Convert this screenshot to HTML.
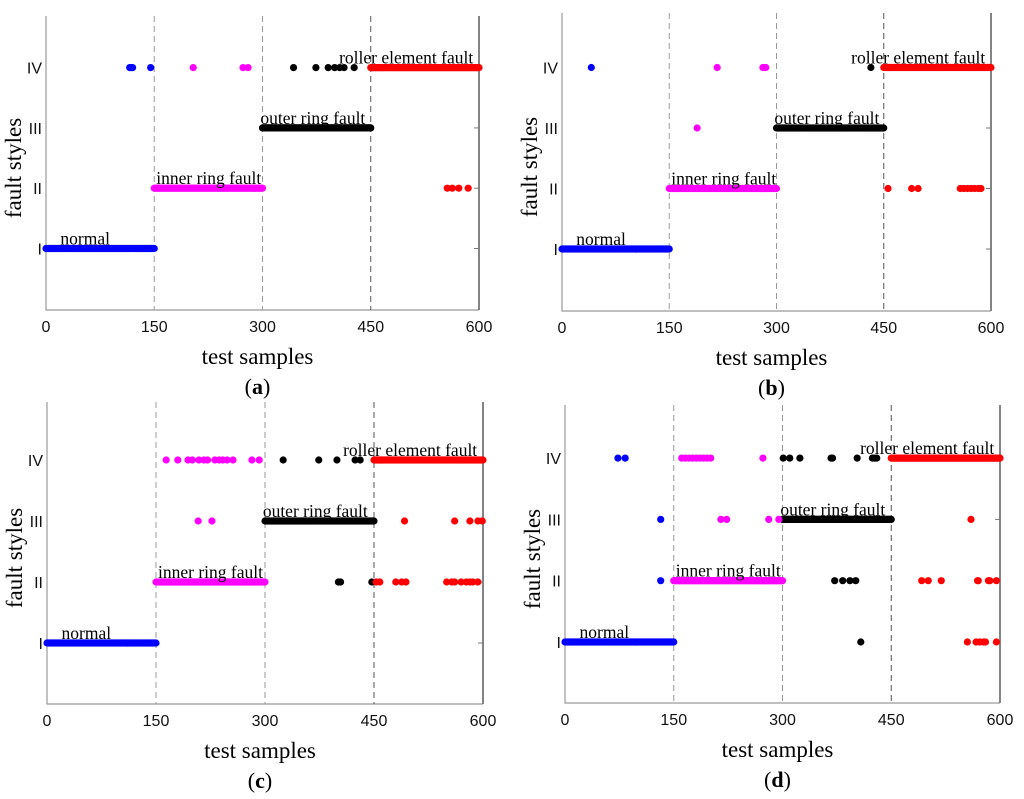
<!DOCTYPE html>
<html><head><meta charset="utf-8">
<style>
html,body{margin:0;padding:0;background:#fff;}
svg{display:block;}
</style></head>
<body>
<svg id="fig" width="1024" height="799" viewBox="0 0 1024 799" xmlns="http://www.w3.org/2000/svg"></svg>
<script>
// ---- data ----
const xTicks = [0, 150, 300, 450, 600];
const yTickLabels = ["I", "II", "III", "IV"];
const classNames = ["normal", "inner ring fault", "outer ring fault", "roller element fault"];
const classColors = ["#0000ff", "#ff00ff", "#000000", "#ff0000"];
const classRanges = [[0,150],[150,300],[300,450],[450,600]];
const panelLetters = ["a","b","c","d"];
// misclassified samples: [sample, trueClass(0-3), predictedLevel(1-4)]
const outA = [[116,0,4],[118,0,4],[120,0,4],[145,0,4],[204,1,4],[273,1,4],[280,1,4],
  [343,2,4],[374,2,4],[391,2,4],[400,2,4],[407,2,4],[413,2,4],[427,2,4],
  [556,3,2],[563,3,2],[572,3,2],[585,3,2]];
const outB = [[41,0,4],[217,1,4],[281,1,4],[285,1,4],[432,2,4],[189,1,3],
  [456,3,2],[489,3,2],[498,3,2],[557,3,2],[562,3,2],[567,3,2],[572,3,2],[577,3,2],[582,3,2],[586,3,2]];
const outC = [[164,1,4],[180,1,4],[194,1,4],[200,1,4],[209,1,4],[216,1,4],[221,1,4],[231,1,4],[237,1,4],[242,1,4],[248,1,4],[256,1,4],[282,1,4],[292,1,4],
  [325,2,4],[374,2,4],[399,2,4],[424,2,4],[431,2,4],
  [208,1,3],[227,1,3],[492,3,3],[561,3,3],[582,3,3],[593,3,3],[599,3,3],
  [401,2,2],[404,2,2],[447,2,2],[453,3,2],[458,3,2],[480,3,2],[488,3,2],[494,3,2],
  [550,3,2],[557,3,2],[561,3,2],[570,3,2],[577,3,2],[582,3,2],[586,3,2],[593,3,2]];
const outD = [[73,0,4],[83,0,4],[161,1,4],[166,1,4],[171,1,4],[176,1,4],[181,1,4],[186,1,4],[191,1,4],[196,1,4],[201,1,4],[273,1,4],
  [301,2,4],[310,2,4],[324,2,4],[367,2,4],[369,2,4],[403,2,4],[424,2,4],[427,2,4],[430,2,4],
  [132,0,3],[215,1,3],[223,1,3],[281,1,3],[295,1,3],[560,3,3],
  [132,0,2],[372,2,2],[383,2,2],[393,2,2],[401,2,2],[492,3,2],[501,3,2],[519,3,2],[569,3,2],[570,3,2],[584,3,2],[586,3,2],[595,3,2],
  [408,2,1],[555,3,1],[567,3,1],[572,3,1],[577,3,1],[580,3,1],[595,3,1]];
const outliers = [outA, outB, outC, outD];

// ---- layout (pixel geometry) ----
const panels = [
  {x0:46, x1:479, top:16, bottom:310, yI:248.5, step:60.3},
  {x0:562, x1:991, top:13, bottom:311, yI:249, step:60.5},
  {x0:47, x1:483, top:402, bottom:704, yI:643, step:61},
  {x0:565, x1:1000, top:405, bottom:703, yI:642, step:61.3}
];
const NS = "http://www.w3.org/2000/svg";
const svg = document.getElementById("fig");
function mk(tag, attrs, parent, txt){
  const e = document.createElementNS(NS, tag);
  for (const k in attrs) e.setAttribute(k, attrs[k]);
  if (txt !== undefined) e.textContent = txt;
  parent.appendChild(e);
  return e;
}
panels.forEach((p, pi) => {
  const g = mk("g", {}, svg);
  
  
  const xs = s => p.x0 + (p.x1 - p.x0) * s / 600;
  const ys = lv => p.yI - (lv - 1) * p.step;
  const ax = mk("path", {d:`M${p.x0},${p.top} V${p.bottom} H${p.x1}`, stroke:"#999", "stroke-width":1.2, fill:"none"}, g);
  
  
  [150,300,450].forEach((v,i) => {
    const l = mk("line", {x1:xs(v), x2:xs(v), y1:p.top, y2:p.bottom, stroke: i===2?"#555":"#999", "stroke-width":1, "stroke-dasharray":"6,4"}, g);
    
    
  });
  const rl = mk("line", {x1:xs(600), x2:xs(600), y1:p.top, y2:p.bottom, stroke:"#777", "stroke-width":1.8}, g);
  
  
  xTicks.forEach(v => {
    const t = mk("text", {x:xs(v), y:p.bottom + 22, "text-anchor":"middle", "font-family":"Liberation Sans, sans-serif", "font-size":16, fill:"#111"}, g, String(v));
    
    
  });
  yTickLabels.forEach((lab, i) => {
    const y = ys(i+1);
    const t = mk("text", {x:p.x0 - 4, y:y + 6, "text-anchor":"end", "font-family":"Liberation Sans, sans-serif", "font-size":16, fill:"#111"}, g, lab);
    
    
    mk("line", {x1:p.x1 - 5, x2:p.x1, y1:y, y2:y, stroke:"#777"}, g);
  });
  classRanges.forEach((r, c) => {
    const grp = mk("g", {fill: classColors[c]}, g);
    
    
    for (let s = r[0]; s <= r[1]; s += 1) {
      mk("circle", {cx: xs(s), cy: ys(c+1), r: 3.6}, grp);
    }
  });
  outliers[pi].forEach(o => {
    const d = mk("circle", {cx: xs(o[0]), cy: ys(o[2]), r: 3.6, fill: classColors[o[1]]}, g);
    
    
  });
  const labX = [20, 150, 297, 592];
  classNames.forEach((n, c) => {
    const t = mk("text", {x: xs(labX[c]) + (c===1?2:0), y: ys(c+1) - 4, "text-anchor": c===3?"end":"start", "font-family":"Liberation Serif, serif", "font-size":17.5, fill:"#000"}, g, n);
    
    
  });
  const xt = mk("text", {x:(p.x0+p.x1)/2 - 5, y:p.bottom + 54, "text-anchor":"middle", "font-family":"Liberation Serif, serif", "font-size":23, fill:"#000"}, g, "test samples");
  
  
  const cy = (p.top + p.bottom)/2 + 5;
  const cx = p.x0 - 25;
  const yt = mk("text", {x:cx, y:cy, transform:`rotate(-90 ${cx} ${cy})`, "text-anchor":"middle", "font-family":"Liberation Serif, serif", "font-size":23, fill:"#000"}, g, "fault styles");
  
  
  const cap = mk("text", {x:(p.x0+p.x1)/2 - 5, y:p.bottom + 84, "text-anchor":"middle", "font-family":"Liberation Serif, serif", "font-size":22, fill:"#000"}, g);
  
  
  mk("tspan", {}, cap, "(");
  mk("tspan", {"font-weight":"bold"}, cap, panelLetters[pi]);
  mk("tspan", {}, cap, ")");
});
</script>
</body></html>
